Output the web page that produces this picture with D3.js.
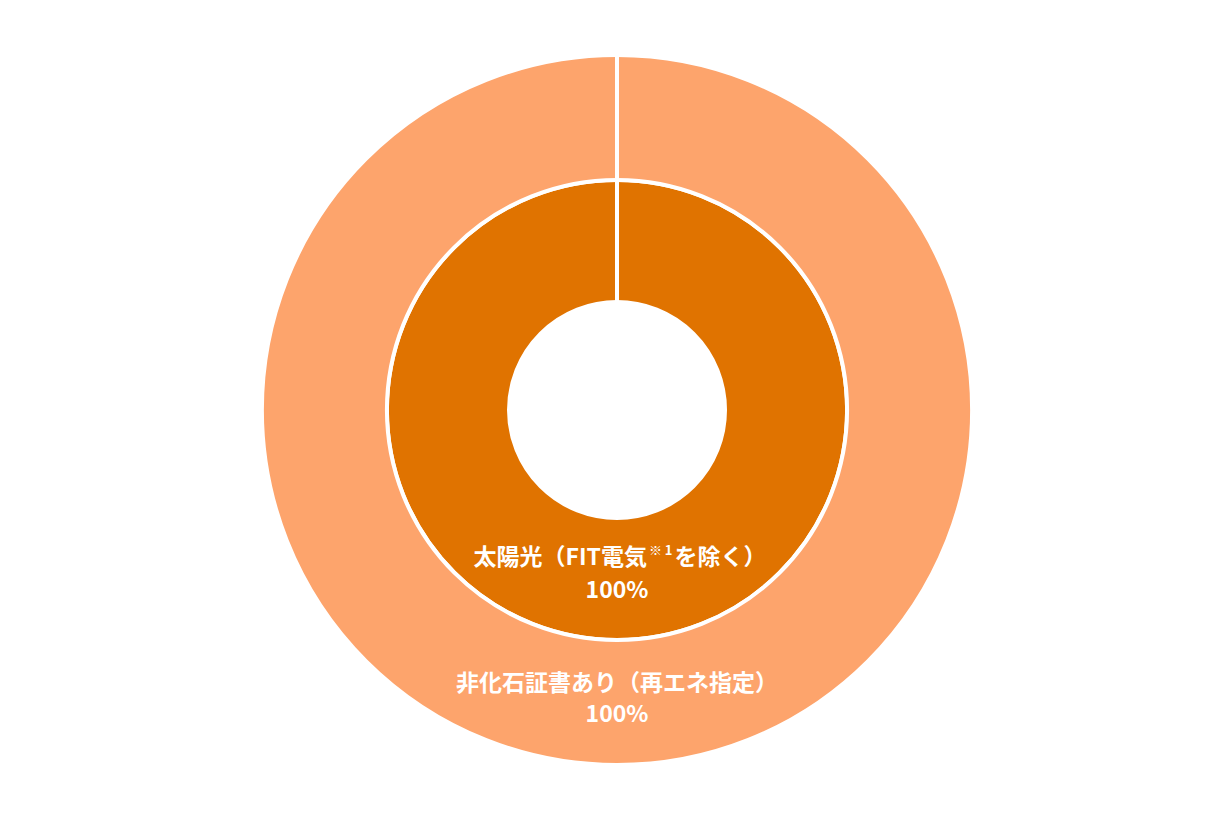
<!DOCTYPE html>
<html>
<head>
<meta charset="utf-8">
<script src="https://cdn.jsdelivr.net/npm/d3@7"></script>
<style>
  body { margin: 0; background: #fff; }
  svg text { font-family: "Noto Sans CJK JP", "Noto Sans", sans-serif; font-weight: 700; fill: #fff; }
</style>
</head>
<body>
<div id="chart"></div>
<script>
// rings: inner = power source, outer = certificate
var innerLabels = ['太陽光（FIT電気', '※ 1', 'を除く）'];
var innerValues = [100];
var outerLabels = ['非化石証書あり（再エネ指定）'];
var outerValues = [100];
var ringColors = ['#e07300', '#fda46c'];

var width = 1230, height = 823;
var cx = 617, cy = 410;

var svg = d3.select('#chart').append('svg')
    .attr('width', width).attr('height', height);

var g = svg.append('g')
    .attr('transform', 'translate(' + cx + ',' + cy + ')');

var pie = d3.pie().sort(null).value(d => d);

var rings = [
    { values: innerValues, inner: 108, outer: 230, color: ringColors[0] },
    { values: outerValues, inner: 230, outer: 355, color: ringColors[1] }
];

rings.forEach(function (r) {
    r.arc = d3.arc().innerRadius(r.inner).outerRadius(r.outer);
    r.slices = pie(r.values);
    g.append('g').selectAll('path')
        .data(r.slices)
        .enter().append('path')
            .attr('d', r.arc)
            .style('fill', r.color)
            .style('stroke', '#fff')
            .style('stroke-width', 4);
    // slice edges (a full circle has no radial edge of its own)
    g.append('g').selectAll('line')
        .data(r.slices)
        .enter().append('line')
            .attr('x1', d => d3.pointRadial(d.startAngle, r.inner)[0])
            .attr('y1', d => d3.pointRadial(d.startAngle, r.inner)[1])
            .attr('x2', d => d3.pointRadial(d.startAngle, r.outer + 1)[0])
            .attr('y2', d => d3.pointRadial(d.startAngle, r.outer + 1)[1])
            .style('stroke', '#fff')
            .style('stroke-width', 4);
});

var fmt = d => d + '%';

// inner label
var ic = rings[0].arc.centroid(rings[0].slices[0]);
var it = g.append('text')
    .attr('x', ic[0] + 3).attr('y', ic[1] - 14)
    .style('text-anchor', 'middle')
    .style('font-size', '23px');
it.append('tspan').text(innerLabels[0]);
it.append('tspan').text(innerLabels[1])
    .style('font-size', '13px').attr('dx', 2).attr('dy', -10);
it.append('tspan').text(innerLabels[2]).attr('dx', 2).attr('dy', 10);
it.append('tspan').attr('x', ic[0]).attr('dy', 33).text(fmt(innerValues[0]));

// outer label
var oc = rings[1].arc.centroid(rings[1].slices[0]);
var ot = g.append('text')
    .attr('x', oc[0]).attr('y', oc[1] - 12)
    .style('text-anchor', 'middle')
    .style('font-size', '23px');
ot.append('tspan').text(outerLabels[0]);
ot.append('tspan').attr('x', oc[0]).attr('dy', 31).text(fmt(outerValues[0]));
</script>
</body>
</html>
